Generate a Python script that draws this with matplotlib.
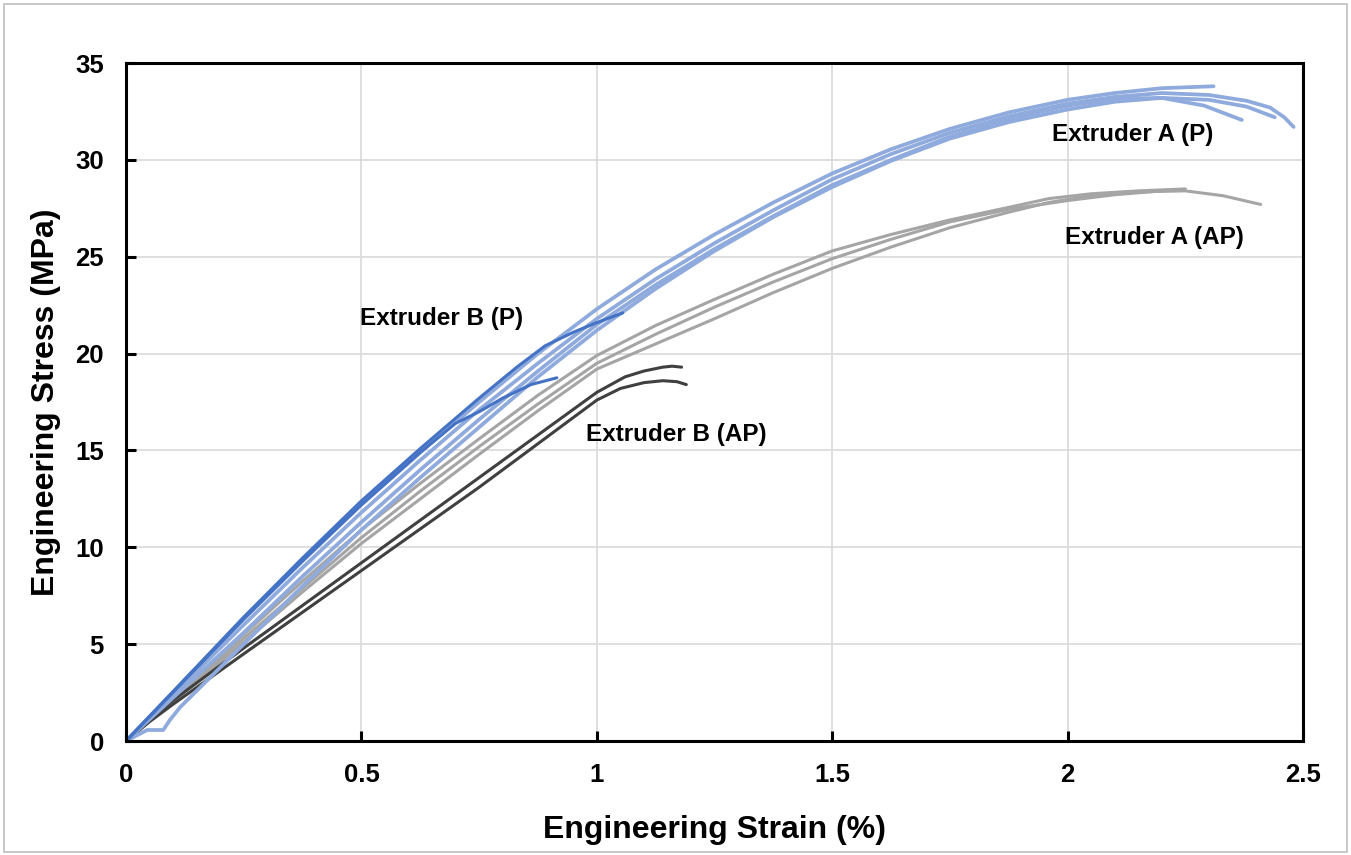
import matplotlib.pyplot as plt
from matplotlib.patches import Rectangle

plt.rcParams['font.family'] = ['Liberation Sans', 'DejaVu Sans']
plt.rcParams['font.weight'] = 'bold'

# Extruder A (P) - light blue
ap1_x = [0, 0.125, 0.25, 0.375, 0.5, 0.625, 0.75, 0.875, 1.0, 1.125, 1.25, 1.375, 1.5,
         1.625, 1.75, 1.875, 2.0, 2.1, 2.2, 2.31]
ap1_y = [0, 3.15, 6.3, 9.3, 12.2, 14.9, 17.5, 20.0, 22.3, 24.35, 26.15, 27.8, 29.3,
         30.55, 31.6, 32.45, 33.1, 33.45, 33.7, 33.8]
ap2_x = [0, 0.125, 0.25, 0.375, 0.5, 0.625, 0.75, 0.875, 1.0, 1.125, 1.25, 1.375, 1.5,
         1.625, 1.75, 1.875, 2.0, 2.1, 2.2, 2.3, 2.38, 2.43, 2.46, 2.48]
ap2_y = [0, 3.0, 6.0, 8.95, 11.8, 14.5, 17.1, 19.5, 21.8, 23.85, 25.7, 27.4, 29.0,
         30.3, 31.4, 32.25, 32.9, 33.25, 33.45, 33.35, 33.05, 32.7, 32.2, 31.7]
ap3_x = [0, 0.045, 0.079, 0.093, 0.115, 0.25, 0.375, 0.5, 0.625, 0.75, 0.875, 1.0, 1.125,
         1.25, 1.375, 1.5, 1.625, 1.75, 1.875, 2.0, 2.1, 2.2, 2.3, 2.38, 2.44]
ap3_y = [0, 0.57, 0.57, 1.08, 1.75, 5.0, 8.0, 10.9, 13.6, 16.2, 18.8, 21.2, 23.35,
         25.3, 27.05, 28.6, 29.95, 31.1, 31.95, 32.6, 33.0, 33.2, 33.1, 32.75, 32.2]
ap4_x = [0, 0.125, 0.25, 0.375, 0.5, 0.625, 0.75, 0.875, 1.0, 1.125, 1.25, 1.375, 1.5,
         1.625, 1.75, 1.875, 2.0, 2.1, 2.2, 2.29, 2.37]
ap4_y = [0, 2.8, 5.6, 8.5, 11.3, 14.0, 16.6, 19.1, 21.5, 23.55, 25.4, 27.1, 28.7,
         30.0, 31.2, 32.1, 32.8, 33.15, 33.2, 32.8, 32.06]

# Extruder B (P) - dark blue
bp1_x = [0, 0.125, 0.25, 0.375, 0.5, 0.625, 0.75, 0.83, 0.89, 0.95, 1.0, 1.055]
bp1_y = [0, 3.2, 6.4, 9.45, 12.4, 15.1, 17.7, 19.3, 20.4, 21.1, 21.6, 22.1]
bp2_x = [0, 0.125, 0.25, 0.375, 0.5, 0.625, 0.7, 0.75, 0.8, 0.86, 0.915]
bp2_y = [0, 3.15, 6.3, 9.3, 12.2, 14.9, 16.4, 17.0, 17.7, 18.4, 18.75]

# Extruder A (AP) - grey
aap1_x = [0, 0.125, 0.25, 0.375, 0.5, 0.625, 0.75, 0.875, 1.0, 1.125, 1.25, 1.375, 1.5,
          1.625, 1.75, 1.875, 1.96, 2.05, 2.15, 2.25]
aap1_y = [0, 2.75, 5.5, 8.25, 10.9, 13.3, 15.6, 17.85, 19.9, 21.45, 22.8, 24.1, 25.3,
          26.15, 26.9, 27.55, 28.0, 28.25, 28.4, 28.5]
aap2_x = [0, 0.125, 0.25, 0.375, 0.5, 0.625, 0.75, 0.875, 1.0, 1.125, 1.25, 1.375, 1.5,
          1.625, 1.75, 1.875, 1.96, 2.05, 2.15, 2.25, 2.33, 2.41]
aap2_y = [0, 2.55, 5.1, 7.7, 10.2, 12.5, 14.8, 17.05, 19.2, 20.5, 21.8, 23.15, 24.4,
          25.5, 26.5, 27.3, 27.8, 28.15, 28.35, 28.4, 28.15, 27.7]
aap3_x = [0, 0.125, 0.25, 0.375, 0.5, 0.625, 0.75, 0.875, 1.0, 1.125, 1.25, 1.375, 1.5,
          1.625, 1.75, 1.875, 2.0, 2.1, 2.2]
aap3_y = [0, 2.65, 5.3, 7.9, 10.5, 12.9, 15.2, 17.4, 19.5, 21.0, 22.4, 23.7, 24.9,
          25.9, 26.8, 27.45, 27.9, 28.2, 28.4]

# Extruder B (AP) - dark grey
bap1_x = [0, 0.05, 0.1, 0.25, 0.375, 0.5, 0.625, 0.75, 0.875, 1.0, 1.06, 1.1, 1.14, 1.16, 1.18]
bap1_y = [0, 1.1, 2.1, 4.8, 7.0, 9.2, 11.4, 13.6, 15.8, 18.0, 18.8, 19.1, 19.3, 19.35, 19.3]
bap2_x = [0, 0.05, 0.1, 0.25, 0.375, 0.5, 0.625, 0.75, 0.875, 1.0, 1.05, 1.1, 1.14, 1.17, 1.19]
bap2_y = [0, 1.0, 1.9, 4.5, 6.65, 8.8, 10.95, 13.1, 15.35, 17.6, 18.2, 18.5, 18.6, 18.55, 18.4]

fig = plt.figure(figsize=(13.51, 8.55), dpi=100)
ax = fig.add_axes([0.0933, 0.1333, 0.8712, 0.793])

# figure border
fig.patches.append(Rectangle((0.003, 0.004), 0.994, 0.991, transform=fig.transFigure,
                             fill=False, edgecolor='#BFBFBF', linewidth=1.2))

for xs, ys in [(aap1_x, aap1_y), (aap2_x, aap2_y), (aap3_x, aap3_y)]:
    ax.plot(xs, ys, color='#A5A5A5', lw=2.2, solid_capstyle='round', solid_joinstyle='round')
for xs, ys in [(bap1_x, bap1_y), (bap2_x, bap2_y)]:
    ax.plot(xs, ys, color='#404040', lw=2.2, solid_capstyle='round', solid_joinstyle='round')
for xs, ys in [(ap1_x, ap1_y), (ap2_x, ap2_y), (ap3_x, ap3_y), (ap4_x, ap4_y)]:
    ax.plot(xs, ys, color='#8FAADC', lw=2.7, solid_capstyle='round', solid_joinstyle='round')
for xs, ys in [(bp1_x, bp1_y), (bp2_x, bp2_y)]:
    ax.plot(xs, ys, color='#4472C4', lw=2.2, solid_capstyle='round', solid_joinstyle='round')

ax.set_xlim(0, 2.5)
ax.set_ylim(0, 35)
ax.set_xticks([0, 0.5, 1, 1.5, 2, 2.5])
ax.set_xticklabels(['0', '0.5', '1', '1.5', '2', '2.5'])
ax.set_yticks(range(0, 36, 5))
ax.grid(True, color='#D9D9D9', lw=1.2)
ax.set_axisbelow(True)
for s in ax.spines.values():
    s.set_linewidth(2.2)
    s.set_color('black')
ax.tick_params(direction='in', length=7, width=2.2, labelsize=18.5, pad=16)

ax.set_xlabel('Engineering Strain (%)', fontsize=23, fontweight='bold', labelpad=20)
ax.set_ylabel('Engineering Stress (MPa)', fontsize=23, fontweight='bold', labelpad=10)

ax.text(0.67, 21.8, 'Extruder B (P)', fontsize=17.5, fontweight='bold', ha='center', va='center')
ax.text(1.168, 15.8, 'Extruder B (AP)', fontsize=17.5, fontweight='bold', ha='center', va='center')
ax.text(2.138, 31.3, 'Extruder A (P)', fontsize=17.5, fontweight='bold', ha='center', va='center')
ax.text(2.185, 26.0, 'Extruder A (AP)', fontsize=17.5, fontweight='bold', ha='center', va='center')

fig.savefig('out.png', dpi=100)
